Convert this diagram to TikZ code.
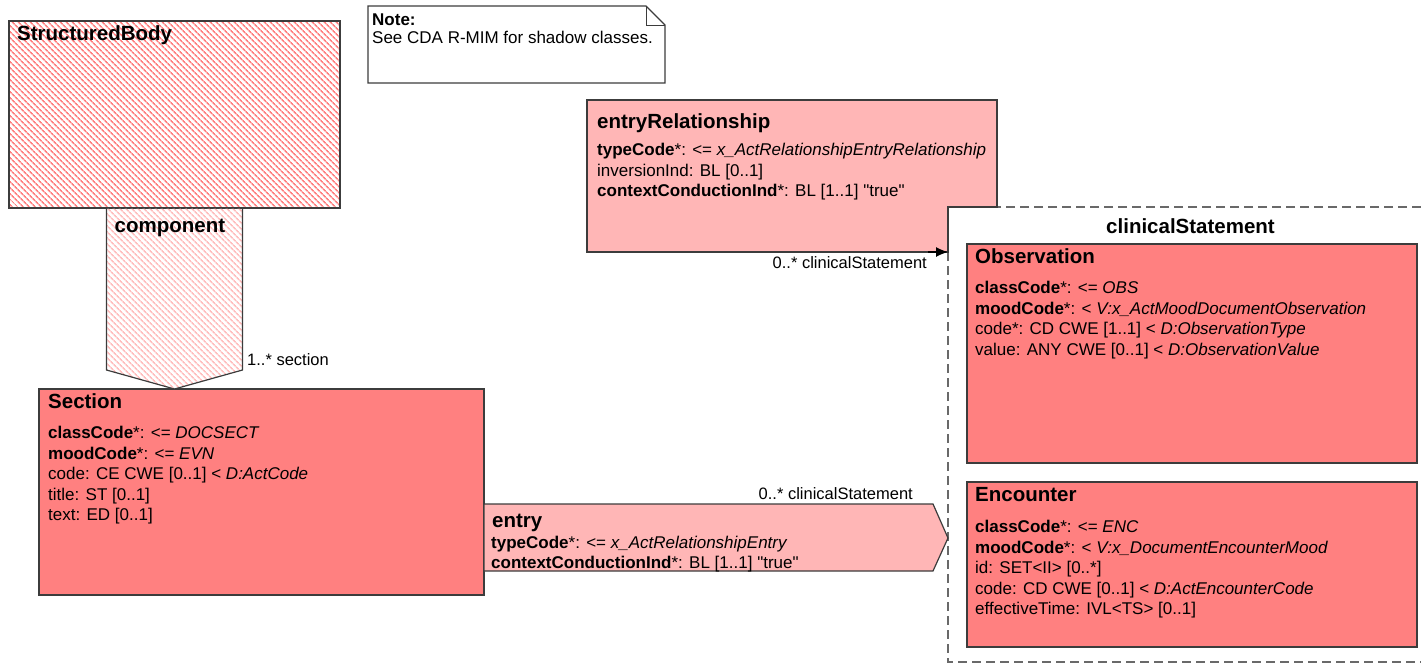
\documentclass[tikz,border=0pt]{standalone}
\usepackage{fontspec}
\setmainfont{Liberation Sans}
\usetikzlibrary{calc}
\usetikzlibrary{arrows.meta}
\usetikzlibrary{patterns.meta}
\definecolor{clsred}{RGB}{255,128,128}
\definecolor{relpink}{RGB}{255,182,182}
\definecolor{comppink}{RGB}{255,190,190}
\definecolor{edgegray}{RGB}{60,60,60}
\definecolor{dashgray}{RGB}{105,105,105}
\tikzset{
  cls/.style={anchor=north west, inner sep=0pt, outer sep=0pt, draw=edgegray, fill=clsred, line width=1.2pt},
  rel/.style={draw=edgegray, fill=relpink, line width=1.2pt, line join=miter},
  hatch/.style={draw=edgegray, line width=1.2pt, pattern={Lines[angle=-45,distance=4pt,line width=1.7pt]}},
  frame/.style={anchor=north west, inner sep=0pt, outer sep=0pt},
  ttl/.style={anchor=base west, inner sep=0pt, font=\fontsize{20.5}{24}\selectfont\bfseries},
  attrs/.style={anchor=north west, inner sep=0pt, align=left, font=\fontsize{17}{20.5}\selectfont},
  lbl/.style={inner sep=0pt, font=\fontsize{16.5}{20}\selectfont}
}
\begin{document}
\begin{tikzpicture}[x=1pt,y=-1pt]
\useasboundingbox (0,0) rectangle (1421,665);

% shadow class and its component
\node[frame, hatch, pattern color=clsred, minimum width=331, minimum height=187] (body) at (9,21) {};
\node[ttl] (bodyttl) at (17,40) {StructuredBody};
\node[cls, minimum width=445, minimum height=206] (section) at (39,389) {};
\draw[hatch, pattern color=comppink] ($(body.south)+(-68,0)$) -- ($(body.south)+(68,0)$) -- ($(body.south)+(68,162)$) -- (body.south |- section.north) -- ($(body.south)+(-68,162)$) -- cycle;
\node[ttl] (compttl) at ($(body.south)+(-60,24)$) {component};
\node[lbl, anchor=base west] (complbl) at (247,365) {1..* section};

% note
\node[frame, minimum width=297, minimum height=77] (note) at (368,6) {};
\draw[draw=edgegray, fill=white, line width=1.2pt] (note.north west) -- ($(note.north east)+(-19,0)$) -- ($(note.north east)+(0,19)$) -- (note.south east) -- (note.south west) -- cycle;
\draw[draw=edgegray, line width=1pt] ($(note.north east)+(-19,0)$) -- ($(note.north east)+(-19,19)$) -- ($(note.north east)+(0,19)$);
\node[attrs, font=\fontsize{17}{18}\selectfont] (notetxt) at (372,14) {\textbf{Note:}\\See CDA R-MIM for shadow classes.};

% choice box
\node[frame, minimum width=473, minimum height=455] (cstmt) at (948,207) {};
\draw[dashgray, line width=1.5pt, dash pattern=on 9pt off 5pt] (cstmt.north east) -- (cstmt.north west) -- (cstmt.south west) -- (cstmt.south east);
\node[ttl, anchor=base] (cstmtttl) at ($(cstmt.north)+(6,26)$) {clinicalStatement};
\node[cls, minimum width=450, minimum height=219] (obs) at (967,244) {};
\node[cls, minimum width=450, minimum height=165] (enc) at (967,482) {};

% entryRelationship
\node[frame, minimum width=410, minimum height=152] (entryrel) at (587,100) {};
\draw[rel] (entryrel.north west) -- (entryrel.north east) -- (entryrel.east |- cstmt.north) -- (cstmt.north west) -- (cstmt.west |- entryrel.south) -- (entryrel.south west) -- cycle;
\draw[-{Latex[length=12pt,width=10pt]}, line width=1.2pt] ($(cstmt.west |- entryrel.south)+(-20,0)$) -- (cstmt.west |- entryrel.south);
\node[lbl, anchor=base east] (rellbl) at (927,268) {0..* clinicalStatement};

% entry
\coordinate (entrytip) at (cstmt.west |- 0,538);
\draw[rel] (section.east |- 0,504) -- ($(entrytip)+(-15,-34)$) -- (entrytip) -- ($(entrytip)+(-15,33)$) -- (section.east |- 0,571) -- cycle;
\node[lbl, anchor=base east] (entrylbl) at (913,499) {0..* clinicalStatement};

% texts
\node[ttl] (sectionttl) at (48,408) {Section};
\node[attrs] (sectionatt) at (48,426) {\textbf{classCode}*: <= \textit{DOCSECT}\\\textbf{moodCode}*: <= \textit{EVN}\\code: CE CWE [0..1] < \textit{D:ActCode}\\title: ST [0..1]\\text: ED [0..1]};

\node[ttl] (entryrelttl) at (597,128) {entryRelationship};
\node[attrs] (entryrelatt) at (597,143) {\textbf{typeCode}*: <= \textit{x\_ActRelationshipEntryRelationship}\\inversionInd: BL [0..1]\\\textbf{contextConductionInd}*: BL [1..1] \textquotedbl true\textquotedbl};

\node[ttl] (entryttl) at (492,527) {entry};
\node[attrs, font=\fontsize{17}{19.5}\selectfont] (entryatt) at (491,536) {\textbf{typeCode}*: <= \textit{x\_ActRelationshipEntry}\\\textbf{contextConductionInd}*: BL [1..1] \textquotedbl true\textquotedbl};

\node[ttl] (obsttl) at (975,263) {Observation};
\node[attrs] (obsatt) at (975,281) {\textbf{classCode}*: <= \textit{OBS}\\\textbf{moodCode}*: < \textit{V:x\_ActMoodDocumentObservation}\\code*: CD CWE [1..1] < \textit{D:ObservationType}\\value: ANY CWE [0..1] < \textit{D:ObservationValue}};

\node[ttl] (encttl) at (975,501) {Encounter};
\node[attrs] (encatt) at (975,520) {\textbf{classCode}*: <= \textit{ENC}\\\textbf{moodCode}*: < \textit{V:x\_DocumentEncounterMood}\\id: SET<II> [0..*]\\code: CD CWE [0..1] < \textit{D:ActEncounterCode}\\effectiveTime: IVL<TS> [0..1]};
\end{tikzpicture}
\end{document}
